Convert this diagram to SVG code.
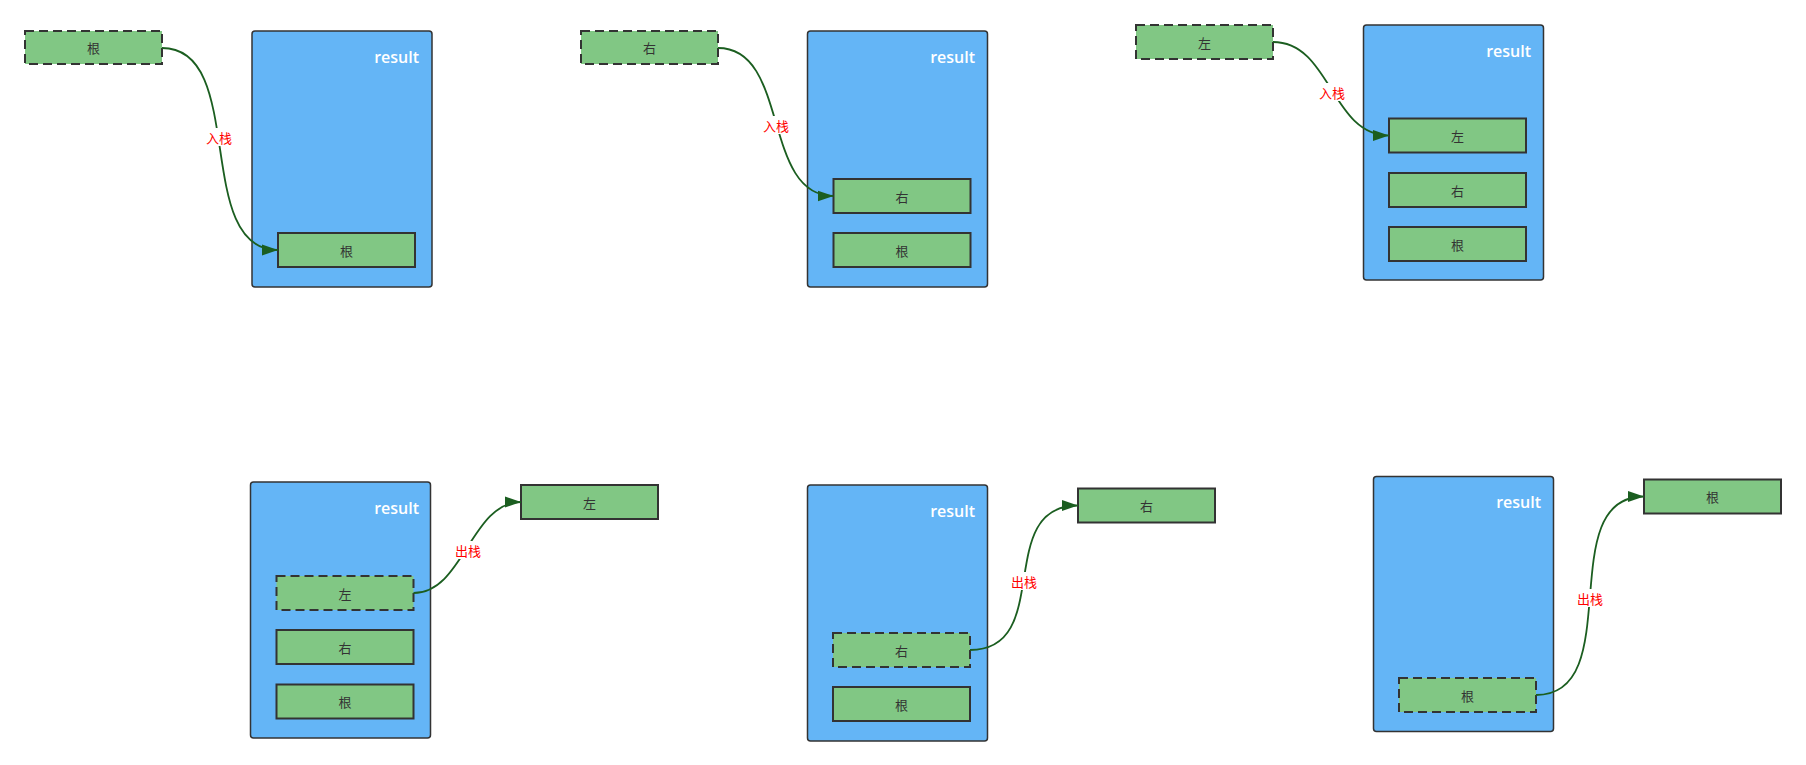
<svg xmlns="http://www.w3.org/2000/svg" width="1806" height="765" viewBox="0 0 1806 765">
<style>
.stack{fill:#64B5F6;stroke:#333;stroke-width:1.5}
.item{fill:#81C784;stroke:#333;stroke-width:2}
.dash{stroke-dasharray:9 5}
.t{font-family:"Noto Sans CJK SC","Open Sans",sans-serif;font-size:13px;fill:#333;text-anchor:middle;dominant-baseline:central}
.res{font-family:"Open Sans","Liberation Sans",sans-serif;font-size:16px;font-weight:600;fill:#fff;text-anchor:end}
.edge{fill:none;stroke:#1B5E20;stroke-width:1.8}
.lbl{font-family:"Noto Sans CJK SC",sans-serif;font-size:13px;fill:#FF0000;text-anchor:middle;dominant-baseline:central}
.lblbg{fill:#fff}
</style>
<defs>
<marker id="arr" markerUnits="userSpaceOnUse" markerWidth="17" markerHeight="12" refX="16" refY="6" orient="auto">
<path d="M0,0.5 L16,6 L0,11.5 Z" fill="#1B5E20"/>
</marker>
</defs>
<rect width="1806" height="765" fill="#fff"/>

<g id="stack1">
<rect class="stack" x="252" y="31" width="180" height="256" rx="3"/>
<text class="res" x="419" y="63">result</text>
</g>
<g id="s1-root"><rect class="item" x="278" y="233" width="137" height="34"/><text class="t" x="346.5" y="250">根</text></g>
<g id="src1"><rect class="item dash" x="25" y="31" width="137" height="33"/><text class="t" x="93.5" y="47.5">根</text></g>

<g id="stack2">
<rect class="stack" x="807.5" y="31" width="180" height="256" rx="3"/>
<text class="res" x="975" y="63">result</text>
</g>
<g id="s2-right"><rect class="item" x="833.5" y="179" width="137" height="34"/><text class="t" x="902" y="196">右</text></g>
<g id="s2-root"><rect class="item" x="833.5" y="233" width="137" height="34"/><text class="t" x="902" y="250">根</text></g>
<g id="src2"><rect class="item dash" x="581" y="31" width="137" height="33"/><text class="t" x="649.5" y="47.5">右</text></g>

<g id="stack3">
<rect class="stack" x="1363.5" y="25" width="180" height="255" rx="3"/>
<text class="res" x="1531" y="57">result</text>
</g>
<g id="s3-left"><rect class="item" x="1389" y="118.5" width="137" height="34"/><text class="t" x="1457.5" y="135.5">左</text></g>
<g id="s3-right"><rect class="item" x="1389" y="173" width="137" height="34"/><text class="t" x="1457.5" y="190">右</text></g>
<g id="s3-root"><rect class="item" x="1389" y="227" width="137" height="34"/><text class="t" x="1457.5" y="244">根</text></g>
<g id="src3"><rect class="item dash" x="1136" y="25" width="137" height="34"/><text class="t" x="1204.5" y="42">左</text></g>

<g id="stack4">
<rect class="stack" x="250.5" y="482" width="180" height="256" rx="3"/>
<text class="res" x="419" y="514">result</text>
</g>
<g id="s4-left"><rect class="item dash" x="276.5" y="576" width="137" height="34"/><text class="t" x="345" y="593">左</text></g>
<g id="s4-right"><rect class="item" x="276.5" y="630" width="137" height="34"/><text class="t" x="345" y="647">右</text></g>
<g id="s4-root"><rect class="item" x="276.5" y="684.5" width="137" height="34"/><text class="t" x="345" y="701.5">根</text></g>
<g id="out4"><rect class="item" x="521" y="485" width="137" height="34"/><text class="t" x="589.5" y="502">左</text></g>

<g id="stack5">
<rect class="stack" x="807.5" y="485" width="180" height="256" rx="3"/>
<text class="res" x="975" y="517">result</text>
</g>
<g id="s5-right"><rect class="item dash" x="833" y="633" width="137" height="34"/><text class="t" x="901.5" y="650">右</text></g>
<g id="s5-root"><rect class="item" x="833" y="687" width="137" height="34"/><text class="t" x="901.5" y="704">根</text></g>
<g id="out5"><rect class="item" x="1078" y="488.5" width="137" height="34"/><text class="t" x="1146.5" y="505.5">右</text></g>

<g id="stack6">
<rect class="stack" x="1373.5" y="476.5" width="180" height="255" rx="3"/>
<text class="res" x="1541" y="508">result</text>
</g>
<g id="s6-root"><rect class="item dash" x="1399" y="678" width="137" height="34"/><text class="t" x="1467.5" y="695">根</text></g>
<g id="out6"><rect class="item" x="1644" y="479.5" width="137" height="34"/><text class="t" x="1712.5" y="496.5">根</text></g>

<g id="connectors">
<path class="edge" d="M162,48 C248,48 192,250 278,250" marker-end="url(#arr)"/>
<rect class="lblbg" x="205" y="128" width="28" height="18"/>
<text class="lbl" x="219" y="137">入栈</text>

<path class="edge" d="M718,48 C790,48 761.5,196 833.5,196" marker-end="url(#arr)"/>
<rect class="lblbg" x="762" y="116" width="28" height="18"/>
<text class="lbl" x="776" y="125">入栈</text>

<path class="edge" d="M1273,42 C1331,42 1331,135.5 1389,135.5" marker-end="url(#arr)"/>
<rect class="lblbg" x="1318" y="83" width="28" height="18"/>
<text class="lbl" x="1332" y="92">入栈</text>

<path class="edge" d="M413.5,593 C463.5,593 471,502 521,502" marker-end="url(#arr)"/>
<rect class="lblbg" x="454" y="541" width="28" height="18"/>
<text class="lbl" x="468" y="550">出栈</text>

<path class="edge" d="M970,650 C1055,650 993,505.5 1078,505.5" marker-end="url(#arr)"/>
<rect class="lblbg" x="1010" y="572" width="28" height="18"/>
<text class="lbl" x="1024" y="581">出栈</text>

<path class="edge" d="M1536,695 C1628,695 1552,496.5 1644,496.5" marker-end="url(#arr)"/>
<rect class="lblbg" x="1576" y="589" width="28" height="18"/>
<text class="lbl" x="1590" y="598">出栈</text>
</g>
</svg>
